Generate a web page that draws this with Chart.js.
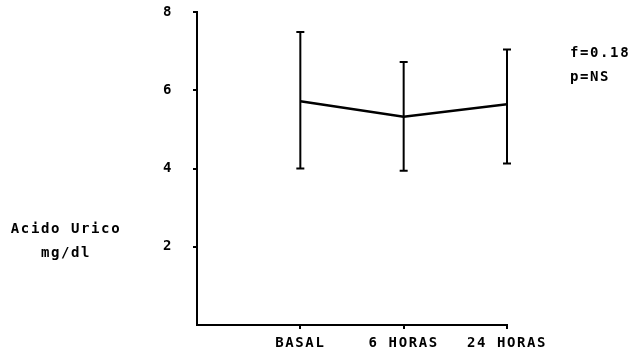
<!DOCTYPE html>
<html>
<head>
<meta charset="utf-8">
<script src="https://cdn.jsdelivr.net/npm/chart.js@4/dist/chart.umd.min.js"></script>
<style>
  html, body { margin: 0; padding: 0; background: #ffffff; }
  #wrap { width: 631px; height: 351px; }
</style>
</head>
<body>
<div id="wrap"><canvas id="c" width="631" height="351"></canvas></div>
<script>
const categories = ['BASAL', '6 HORAS', '24 HORAS'];
const xPositions = [1, 2, 3];
const meanValues = [5.72, 5.32, 5.64];
const upperValues = [7.49, 6.72, 7.04];
const lowerValues = [4.00, 3.94, 4.13];
const yTickValues = [2, 4, 6, 8];
const yTitleLines = ['Acido Urico', 'mg/dl'];
const statLines = ['f=0.18', 'p=NS'];

const FONT = 'bold 14px "DejaVu Sans Mono", "Liberation Mono", monospace';

const spacingPlugin = {
  id: 'spacing',
  beforeDraw(chart) { chart.ctx.letterSpacing = '1.6px'; }
};

const errorBarPlugin = {
  id: 'errorBars',
  afterDatasetsDraw(chart) {
    const ctx = chart.ctx;
    const xs = chart.scales.x, ys = chart.scales.y;
    ctx.save();
    ctx.strokeStyle = '#000';
    ctx.lineWidth = 2;
    xPositions.forEach((xv, i) => {
      const x = xs.getPixelForValue(xv);
      const yt = ys.getPixelForValue(upperValues[i]);
      const yb = ys.getPixelForValue(lowerValues[i]);
      ctx.beginPath();
      ctx.moveTo(x, yt); ctx.lineTo(x, yb);
      ctx.moveTo(x - 4, yt); ctx.lineTo(x + 4, yt);
      ctx.moveTo(x - 4, yb); ctx.lineTo(x + 4, yb);
      ctx.stroke();
    });
    ctx.restore();
  }
};

const textPlugin = {
  id: 'texts',
  afterDraw(chart) {
    const ctx = chart.ctx;
    ctx.save();
    ctx.letterSpacing = '1.6px';
    ctx.fillStyle = '#000';
    ctx.font = FONT;
    ctx.textBaseline = 'middle';
    ctx.textAlign = 'center';
    ctx.fillText(yTitleLines[0], 66, 229);
    ctx.fillText(yTitleLines[1], 66, 253);
    ctx.textAlign = 'left';
    ctx.fillText(statLines[0], 570, 53);
    ctx.fillText(statLines[1], 570, 77);
    ctx.restore();
  }
};

new Chart(document.getElementById('c'), {
  type: 'line',
  data: {
    datasets: [{
      data: xPositions.map((x, i) => ({ x: x, y: meanValues[i] })),
      borderColor: '#000',
      borderWidth: 2.5,
      pointRadius: 0,
      tension: 0,
      fill: false
    }]
  },
  options: {
    responsive: false,
    animation: false,
    devicePixelRatio: 1,
    layout: { padding: { left: 0, top: 12, right: 124, bottom: 0 } },
    plugins: { legend: { display: false }, tooltip: { enabled: false } },
    scales: {
      x: {
        type: 'linear',
        min: 0, max: 3,
        afterBuildTicks: s => { s.ticks = xPositions.map(v => ({ value: v })); },
        afterFit: s => { s.height = 26; s.paddingLeft = 0; s.paddingRight = 0; },
        ticks: {
          color: '#000',
          font: { family: '"DejaVu Sans Mono", "Liberation Mono", monospace', size: 14, weight: 'bold' },
          padding: 6,
          maxRotation: 0,
          autoSkip: false,
          callback: (v) => { const i = xPositions.indexOf(v); return i >= 0 ? categories[i] : ''; }
        },
        grid: { display: true, drawOnChartArea: false, drawTicks: true, tickLength: 4, color: '#000', lineWidth: 2 },
        border: { display: true, color: '#000', width: 2 }
      },
      y: {
        type: 'linear',
        min: 0, max: 8,
        afterBuildTicks: s => { s.ticks = yTickValues.map(v => ({ value: v })); },
        afterFit: s => { s.width = 197; s.paddingTop = 0; s.paddingBottom = 0; },
        ticks: {
          color: '#000',
          font: { family: '"DejaVu Sans Mono", "Liberation Mono", monospace', size: 14, weight: 'bold' },
          padding: 20
        },
        grid: { display: true, drawOnChartArea: false, drawTicks: true, tickLength: 4, color: '#000', lineWidth: 2 },
        border: { display: true, color: '#000', width: 2 }
      }
    }
  },
  plugins: [spacingPlugin, errorBarPlugin, textPlugin]
});
</script>
</body>
</html>
